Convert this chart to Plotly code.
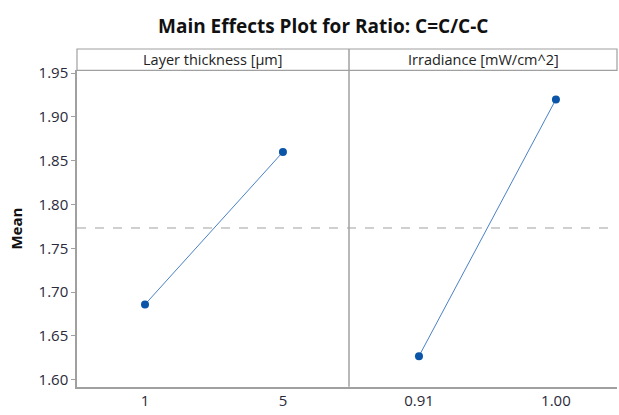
import plotly.graph_objects as go
import numpy as np

title = "Main Effects Plot for Ratio: C=C/C-C"
factor_names = ["Layer thickness [µm]", "Irradiance [mW/cm^2]"]
layer_levels = ["1", "5"]
layer_means = [1.686, 1.860]
irr_levels = ["0.91", "1.00"]
irr_means = [1.627, 1.920]
y_ticks = [1.60, 1.65, 1.70, 1.75, 1.80, 1.85, 1.90, 1.95]

W, H = 619, 415
def px(x): return x / W
def py(y): return (H - y) / H

x0, xm, x1 = px(77), px(349), px(617)
yb, yt, yh = py(388), py(64), py(42)

grand_mean = float(np.mean(layer_means + irr_means))

fig = go.Figure()
line_col = "#4a80c8"
mark_col = "#0a55a8"
fig.add_trace(go.Scatter(x=layer_levels, y=layer_means, mode="lines+markers",
                         line=dict(color=line_col, width=1),
                         marker=dict(color=mark_col, size=8),
                         xaxis="x", yaxis="y", showlegend=False))
fig.add_trace(go.Scatter(x=irr_levels, y=irr_means, mode="lines+markers",
                         line=dict(color=line_col, width=1),
                         marker=dict(color=mark_col, size=8),
                         xaxis="x2", yaxis="y2", showlegend=False))

yr = [1.5922, 1.953]
font_ax = dict(family="Open Sans, sans-serif", size=15, color="#2a2a3a")
common_y = dict(range=yr, showgrid=False, zeroline=False)
fig.update_layout(
    width=W, height=H, margin=dict(l=0, r=0, t=0, b=0),
    plot_bgcolor="white", paper_bgcolor="white",
    xaxis=dict(domain=[x0, xm], type="category", range=[-0.493, 1.479],
               showgrid=False, zeroline=False, showline=True, linecolor="#a0a0a0",
               linewidth=1.5, ticks="", tickfont=font_ax, anchor="y"),
    xaxis2=dict(domain=[xm, x1], type="category", range=[-0.511, 1.446],
                showgrid=False, zeroline=False, showline=True, linecolor="#a0a0a0",
                linewidth=1.5, ticks="", tickfont=font_ax, anchor="y2"),
    yaxis=dict(domain=[yb, yt], tickvals=y_ticks, ticktext=[f"{v:.2f}" for v in y_ticks],
               showline=True, linecolor="#a0a0a0", linewidth=1.5, ticks="outside",
               ticklen=4, tickcolor="#a0a0a0", tickfont=font_ax, anchor="x", **common_y),
    yaxis2=dict(domain=[yb, yt], showticklabels=False, showline=False, ticks="",
                anchor="x2", matches="y", **common_y),
)

# grand mean reference line
fig.add_shape(type="line", xref="paper", yref="y", x0=x0, x1=x1,
              y0=grand_mean, y1=grand_mean,
              line=dict(color="#a0a0a0", width=1, dash="dash"))
# panel divider
fig.add_shape(type="line", xref="paper", yref="paper", x0=xm, x1=xm, y0=yb, y1=yh,
              line=dict(color="#a0a0a0", width=1.5))
# header strip
fig.add_shape(type="rect", xref="paper", yref="paper", x0=x0, x1=x1, y0=yt, y1=yh,
              line=dict(color="#a0a0a0", width=1.2), fillcolor="rgba(0,0,0,0)")

hdr_font = dict(family="Open Sans, sans-serif", size=14.5, color="#222")
fig.add_annotation(text=factor_names[0], xref="paper", yref="paper",
                   x=(x0 + xm) / 2, y=(yt + yh) / 2, showarrow=False, font=hdr_font,
                   xanchor="center", yanchor="middle")
fig.add_annotation(text=factor_names[1], xref="paper", yref="paper",
                   x=(xm + x1) / 2, y=(yt + yh) / 2, showarrow=False, font=hdr_font,
                   xanchor="center", yanchor="middle")
fig.add_annotation(text="<b>" + title + "</b>", xref="paper", yref="paper",
                   x=px(323), y=py(18), showarrow=False,
                   font=dict(family="Open Sans, sans-serif", size=19, color="#111"),
                   xanchor="center", yanchor="middle")
fig.add_annotation(text="<b>Mean</b>", xref="paper", yref="paper",
                   x=px(16), y=(yb + yt) / 2, showarrow=False, textangle=-90,
                   font=dict(family="Open Sans, sans-serif", size=15, color="#111"),
                   xanchor="center", yanchor="middle")

fig.write_html("out.html")
